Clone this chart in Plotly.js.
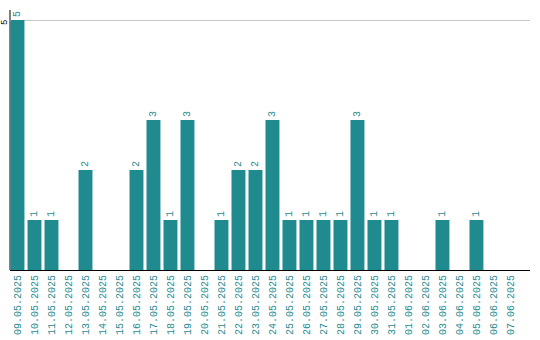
<!DOCTYPE html>
<html><head><meta charset="utf-8">
<script src="https://cdn.plot.ly/plotly-3.0.1.min.js"></script>
<style>html,body{margin:0;padding:0;background:#fff}#c{width:540px;height:340px}</style>
</head><body><div id="c"></div>
<script>
const dates = ["09.05.2025","10.05.2025","11.05.2025","12.05.2025","13.05.2025","14.05.2025","15.05.2025","16.05.2025","17.05.2025","18.05.2025","19.05.2025","20.05.2025","21.05.2025","22.05.2025","23.05.2025","24.05.2025","25.05.2025","26.05.2025","27.05.2025","28.05.2025","29.05.2025","30.05.2025","31.05.2025","01.06.2025","02.06.2025","03.06.2025","04.06.2025","05.06.2025","06.06.2025","07.06.2025"];
const counts = [5,1,1,0,2,0,0,2,3,1,3,0,1,2,2,3,1,1,1,1,3,1,1,0,0,1,0,1,0,0];
const yTicks = [5];

const teal = "rgb(31,139,143)";
const mono = "Liberation Mono, DejaVu Sans Mono, monospace";
const idx = dates.map((d,i)=>i);
const trace = {
  type: "bar",
  x: idx,
  y: counts,
  text: counts.map(v => v > 0 ? String(v) : ""),
  textposition: "outside",
  textangle: -90,
  constraintext: "none",
  cliponaxis: false,
  textfont: {family: mono, size: 10, color: teal},
  marker: {color: teal},
  hoverinfo: "none"
};
const layout = {
  width: 540, height: 340,
  margin: {l: 10, r: 10, t: 10, b: 70, pad: 0},
  paper_bgcolor: "#fff", plot_bgcolor: "#fff",
  showlegend: false,
  bargap: 0.18,
  font: {family: mono, size: 10, color: "#000"},
  xaxis: {
    type: "linear",
    range: [-0.44, 30.15],
    tickmode: "array",
    tickvals: idx,
    ticktext: dates,
    tickangle: -90,
    tickfont: {family: mono, size: 10, color: teal},
    showgrid: false, zeroline: false,
    showline: true, linecolor: "#000", linewidth: 1,
    ticks: "", fixedrange: true, layer: "below traces"
  },
  yaxis: {
    range: [0, 5.2],
    tickmode: "array",
    tickvals: yTicks,
    showticklabels: false,
    showgrid: true, gridcolor: "#c8c8c8", gridwidth: 1,
    zeroline: false,
    showline: false,
    ticks: "", fixedrange: true
  },
  shapes: [{
    type: "line", layer: "below",
    xref: "paper", yref: "paper", x0: 0, x1: 0, y0: 0, y1: 1,
    line: {color: "#000", width: 1}
  }],
  annotations: yTicks.map(v => ({
    xref: "paper", yref: "y", x: 0, y: v,
    xanchor: "center", yanchor: "middle",
    xshift: -5, yshift: -3,
    text: String(v), showarrow: false, textangle: -90,
    borderpad: 0,
    font: {family: mono, size: 9, color: "#000"}
  }))
};
Plotly.newPlot("c", [trace], layout, {staticPlot: true, displayModeBar: false});
</script></body></html>
